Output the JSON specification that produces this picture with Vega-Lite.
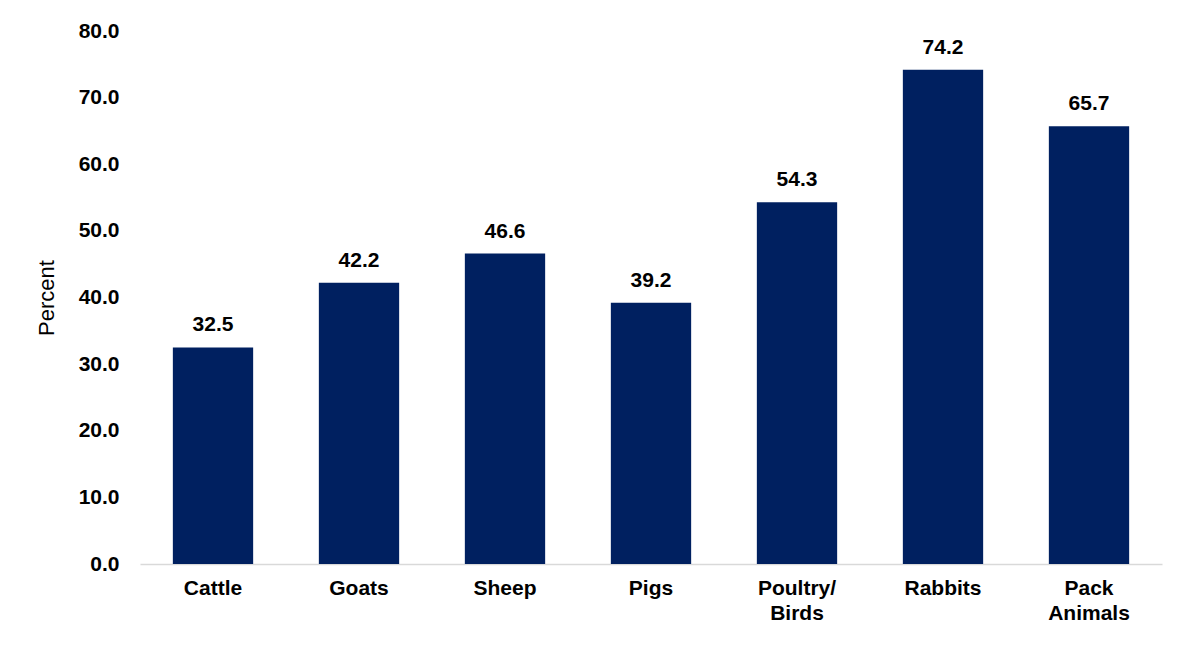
{
  "$schema": "https://vega.github.io/schema/vega-lite/v6.json",
  "autosize": "none",
  "width": 1022,
  "height": 533,
  "padding": {"left": 140, "top": 31, "right": 28, "bottom": 84},
  "background": "white",
  "config": {"view": {"stroke": null}, "font": "Liberation Sans"},
  "data": {"values": [
    {"animal": "Cattle", "pct": 32.5},
    {"animal": "Goats", "pct": 42.2},
    {"animal": "Sheep", "pct": 46.6},
    {"animal": "Pigs", "pct": 39.2},
    {"animal": "Poultry/ Birds", "pct": 54.3},
    {"animal": "Rabbits", "pct": 74.2},
    {"animal": "Pack Animals", "pct": 65.7}
  ]},
  "encoding": {
    "x": {"field": "animal", "type": "nominal", "sort": null,
      "scale": {"paddingInner": 0.45, "paddingOuter": 0.225},
      "axis": {"title": null, "labelAngle": 0, "labelFont": "Liberation Sans", "labelFontWeight": "bold", "labelFontSize": 21, "labelColor": "#000000", "labelPadding": 13, "labelLineHeight": 25, "ticks": false, "domainColor": "#d9d9d9", "domainWidth": 1.5,
        "labelExpr": "datum.value == 'Poultry/ Birds' ? ['Poultry/', 'Birds'] : datum.value == 'Pack Animals' ? ['Pack', 'Animals'] : datum.value"}},
    "y": {"field": "pct", "type": "quantitative",
      "scale": {"domain": [0, 80], "nice": false},
      "axis": {"title": "Percent", "titleFont": "Liberation Sans", "titleFontWeight": "normal", "titleFontSize": 22, "titleColor": "#000000", "titlePadding": 20, "values": [0, 10, 20, 30, 40, 50, 60, 70, 80], "format": ".1f", "labelFont": "Liberation Sans", "labelFontWeight": "bold", "labelFontSize": 21, "labelColor": "#000000", "labelPadding": 21, "ticks": false, "domain": false, "grid": false}}
  },
  "layer": [
    {"mark": {"type": "bar", "color": "#002060"}},
    {"mark": {"type": "text", "baseline": "bottom", "dy": -12, "font": "Liberation Sans", "fontWeight": "bold", "fontSize": 21, "color": "#000000"},
     "encoding": {"text": {"field": "pct", "type": "quantitative", "format": ".1f"}}}
  ]
}
